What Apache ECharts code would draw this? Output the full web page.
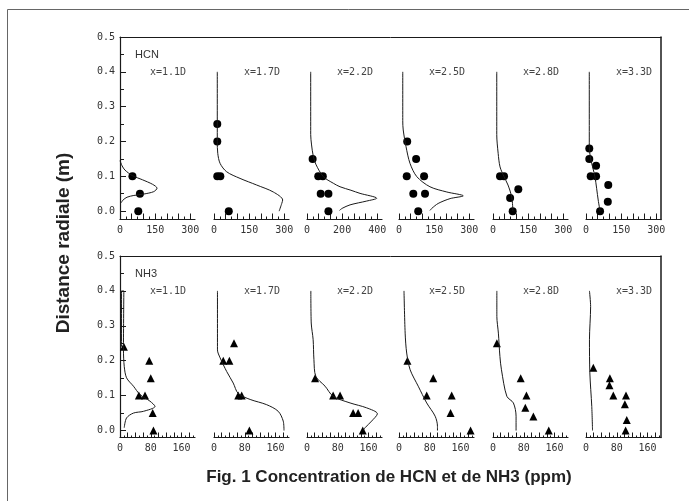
<!DOCTYPE html>
<html><head><meta charset="utf-8">
<script src="https://cdn.jsdelivr.net/npm/echarts@6/dist/echarts.min.js"></script>
<style>html,body{margin:0;padding:0;background:#fff}#c{width:689px;height:501px}</style>
</head><body><div id="c"></div><script>
// ---------- DATA ----------
const yTickValues = [0, 0.1, 0.2, 0.3, 0.4, 0.5];
const yMinorValues = [0.05, 0.15, 0.25, 0.35, 0.45];
const panelLabels = ['x=1.1D', 'x=1.7D', 'x=2.2D', 'x=2.5D', 'x=2.8D', 'x=3.3D'];
const hcnXLabels = [[0,150,300],[0,150,300],[0,200,400],[0,150,300],[0,150,300],[0,150,300]];
const hcnXMax = [320, 320, 427, 320, 320, 320];
const nh3XLabels = [[0,80,160],[0,80,160],[0,80,160],[0,80,160],[0,80,160],[0,80,160]];
const nh3XMax = [195, 195, 195, 195, 195, 195];

// HCN measured points [ppm, m]
const hcnPts1 = [[53,0.10],[85,0.05],[78,0.0]];
const hcnPts2 = [[14,0.25],[14,0.20],[14,0.10],[27,0.10],[63,0.0]];
const hcnPts3 = [[32,0.15],[64,0.10],[90,0.10],[78,0.05],[122,0.05],[122,0.0]];
const hcnPts4 = [[35,0.20],[73,0.15],[33,0.10],[107,0.10],[61,0.05],[111,0.05],[82,0.0]];
const hcnPts5 = [[30,0.10],[47,0.10],[108,0.063],[73,0.038],[84,0.0]];
const hcnPts6 = [[14,0.18],[14,0.15],[43,0.13],[20,0.10],[43,0.10],[95,0.075],[93,0.027],[60,0.0]];
// HCN computed profiles
const hcnCurve1 = [[0,0.145],[9,0.13],[21,0.118],[53,0.102],[96,0.09],[139,0.077],[158,0.066],[144,0.056],[101,0.049],[59,0.045],[30,0.04],[13,0.032],[5,0.024]];
const hcnCurve2 = [[14,0.4],[14,0.2],[16,0.166],[26,0.137],[54,0.113],[111,0.094],[182,0.075],[253,0.055],[293,0.032],[289,0.022],[278,0.0]];
const hcnCurve3 = [[21,0.4],[21,0.22],[26,0.19],[35,0.16],[50,0.135],[93,0.099],[150,0.08],[188,0.07],[250,0.06],[302,0.051],[397,0.037],[340,0.029],[245,0.018],[200,0.008],[185,0.002]];
const hcnCurve4 = [[16,0.4],[16,0.26],[18,0.233],[30,0.185],[47,0.137],[76,0.099],[132,0.07],[204,0.055],[274,0.044],[218,0.036],[167,0.022],[140,0.008],[132,0.002]];
const hcnCurve5 = [[16,0.4],[16,0.22],[22,0.166],[30,0.127],[47,0.099],[64,0.075],[80,0.04],[85,0.0]];
const hcnCurve6 = [[14,0.4],[14,0.185],[20,0.15],[38,0.099],[52,0.032],[60,0.0]];

// NH3 measured points
const nh3Pts1 = [[10,0.24],[76,0.20],[80,0.15],[49,0.10],[65,0.10],[85,0.05],[87,0.0]];
const nh3Pts2 = [[52,0.25],[24,0.20],[40,0.20],[63,0.10],[72,0.10],[92,0.0]];
const nh3Pts3 = [[21,0.15],[68,0.10],[86,0.10],[120,0.05],[133,0.05],[145,0.0]];
const nh3Pts4 = [[22,0.20],[89,0.15],[72,0.10],[137,0.10],[134,0.05],[186,0.0]];
const nh3Pts5 = [[10,0.25],[72,0.15],[87,0.10],[84,0.065],[105,0.04],[145,0.0]];
const nh3Pts6 = [[19,0.18],[62,0.15],[61,0.13],[71,0.10],[104,0.10],[101,0.075],[106,0.03],[103,0.0]];
// NH3 computed profiles
const nh3Curve1 = [[4,0.24],[4,0.4],[10,0.4],[9,0.231],[11,0.184],[17,0.151],[35,0.127],[52,0.103],[78,0.084],[91,0.069],[61,0.055],[35,0.05],[17,0.036],[11,0.008]];
const nh3Curve2 = [[9,0.4],[9,0.231],[16,0.208],[33,0.169],[50,0.136],[63,0.106],[94,0.089],[137,0.074],[167,0.055],[180,0.027],[182,0.0]];
const nh3Curve3 = [[10,0.4],[11,0.308],[16,0.26],[18,0.203],[23,0.155],[47,0.127],[68,0.098],[112,0.079],[155,0.065],[183,0.048],[168,0.027],[151,0.008],[146,0.0]];
const nh3Curve4 = [[13,0.4],[16,0.279],[20,0.222],[29,0.174],[50,0.127],[72,0.079],[94,0.041],[100,0.012],[100,0.0]];
const nh3Curve5 = [[10,0.4],[10,0.327],[14,0.279],[18,0.212],[22,0.174],[36,0.098],[53,0.079],[60,0.041],[60,0.0]];
const nh3Curve6 = [[9,0.4],[12,0.355],[9,0.26],[10,0.165],[15,0.069],[17,0.0]];

// ---------- LAYOUT ----------
const panelLeft = [120, 214, 307, 399, 493, 586];
const panelW = 75;
const frameRight = 661;
const rowsCfg = [
  { name: 'HCN', top: 37, base: 219.5, yMin: -0.024, pts: [hcnPts1,hcnPts2,hcnPts3,hcnPts4,hcnPts5,hcnPts6], curves: [hcnCurve1,hcnCurve2,hcnCurve3,hcnCurve4,hcnCurve5,hcnCurve6], xl: hcnXLabels, xmax: hcnXMax, sym: 'circle', symSize: 8, div: 6, tMaj: 6, tMin: 3 },
  { name: 'NH3', top: 256, base: 437.5, yMin: -0.02, pts: [nh3Pts1,nh3Pts2,nh3Pts3,nh3Pts4,nh3Pts5,nh3Pts6], curves: [nh3Curve1,nh3Curve2,nh3Curve3,nh3Curve4,nh3Curve5,nh3Curve6], xl: nh3XLabels, xmax: nh3XMax, sym: 'triangle', symSize: 8, div: 8, tMaj: 5, tMin: 2 }
];
const ink = '#1a1a1a';
const lblFont = { fontFamily: 'DejaVu Sans Mono', fontSize: 10, color: '#333' };

const grid = [], xAxis = [], yAxis = [], series = [], graphic = [];

function range(a, b, s) { const out = []; for (let v = a; v <= b + 1e-9; v += s) out.push(+v.toFixed(4)); return out; }

rowsCfg.forEach((row, r) => {
  const h = row.base - row.top;
  const fg = grid.length;
  grid.push({ left: panelLeft[0], top: row.top, width: frameRight - panelLeft[0], height: h });
  xAxis.push({ gridIndex: fg, type: 'value', position: 'top', min: 0, max: 1,
    axisLine: { show: true, onZero: false, lineStyle: { color: ink, width: 1 } },
    axisTick: { show: false }, axisLabel: { show: false }, splitLine: { show: false } });
  yAxis.push({ gridIndex: fg, type: 'value', position: 'left', min: row.yMin, max: 0.5,
    axisLine: { show: true, onZero: false, lineStyle: { color: ink, width: 1.2 } },
    axisTick: { show: true, inside: true, length: 6, customValues: yTickValues, lineStyle: { color: ink } },
    axisLabel: Object.assign({ show: true, customValues: yTickValues, margin: 5, formatter: v => v.toFixed(1) }, lblFont),
    splitLine: { show: false } });
  yAxis.push({ gridIndex: fg, type: 'value', position: 'left', min: row.yMin, max: 0.5,
    axisLine: { show: false, onZero: false },
    axisTick: { show: true, inside: true, length: 4, customValues: yMinorValues, lineStyle: { color: ink } },
    axisLabel: { show: false }, splitLine: { show: false } });
  yAxis.push({ gridIndex: fg, type: 'value', position: 'right', min: row.yMin, max: 0.5,
    axisLine: { show: true, onZero: false, lineStyle: { color: ink, width: 1.5 } },
    axisTick: { show: false }, axisLabel: { show: false }, splitLine: { show: false } });

  graphic.push({ type: 'text', left: 135, top: row.top + 12, style: { text: row.name, font: '11px "Liberation Sans"', fill: '#333' } });

  for (let p = 0; p < 6; p++) {
    const gi = grid.length;
    grid.push({ left: panelLeft[p], top: row.top, width: panelW, height: h });
    const xmax = row.xmax[p];
    const labels = row.xl[p];
    const step = labels[1] / row.div;
    const all = range(0, xmax, step);
    const major = all.filter((v, i) => i % 2 === 0);
    const minor = all.filter((v, i) => i % 2 === 1);
    xAxis.push({ gridIndex: gi, type: 'value', position: 'bottom', min: 0, max: xmax,
      axisLine: { show: true, onZero: false, lineStyle: { color: ink, width: 1.2 } },
      axisTick: { show: true, inside: true, length: row.tMaj, customValues: major, lineStyle: { color: ink } },
      axisLabel: Object.assign({ show: true, customValues: labels, margin: 6 }, lblFont),
      splitLine: { show: false } });
    const xi = xAxis.length - 1;
    xAxis.push({ gridIndex: gi, type: 'value', position: 'bottom', min: 0, max: xmax,
      axisLine: { show: false, onZero: false },
      axisTick: { show: true, inside: true, length: row.tMin, customValues: minor, lineStyle: { color: ink } },
      axisLabel: { show: false }, splitLine: { show: false } });
    yAxis.push({ gridIndex: gi, type: 'value', min: row.yMin, max: 0.5, show: false });
    const yi = yAxis.length - 1;
    series.push({ type: 'line', xAxisIndex: xi, yAxisIndex: yi, data: row.curves[p], showSymbol: false, symbol: 'none',
      smooth: 0.3, lineStyle: { color: ink, width: 1 }, silent: true, animation: false });
    series.push({ type: 'scatter', xAxisIndex: xi, yAxisIndex: yi, data: row.pts[p], symbol: row.sym, symbolSize: row.symSize,
      itemStyle: { color: '#000', opacity: 1 }, silent: true, animation: false });
    graphic.push({ type: 'text', x: panelLeft[p] + 48, y: row.top + 35, style: { text: panelLabels[p], font: '10px "DejaVu Sans Mono"', fill: '#444', textAlign: 'center', textVerticalAlign: 'middle' } });
  }
});

graphic.push({ type: 'rect', shape: { x: 7.5, y: 9.5, width: 720, height: 600 }, style: { fill: 'none', stroke: '#666', lineWidth: 1 } });
graphic.push({ type: 'text', x: 64, y: 243, rotation: Math.PI / 2, style: { text: 'Distance radiale (m)', font: 'bold 19px "Liberation Sans"', fill: '#222', textAlign: 'center', textVerticalAlign: 'middle' } });
graphic.push({ type: 'text', x: 389, y: 477, style: { text: 'Fig. 1 Concentration de HCN et de NH3 (ppm)', font: 'bold 17px "Liberation Sans"', fill: '#222', textAlign: 'center', textVerticalAlign: 'middle' } });

const chart = echarts.init(document.getElementById('c'), null, { renderer: 'canvas' });
chart.setOption({ animation: false, backgroundColor: '#fff', grid, xAxis, yAxis, series, graphic });
</script></body></html>
